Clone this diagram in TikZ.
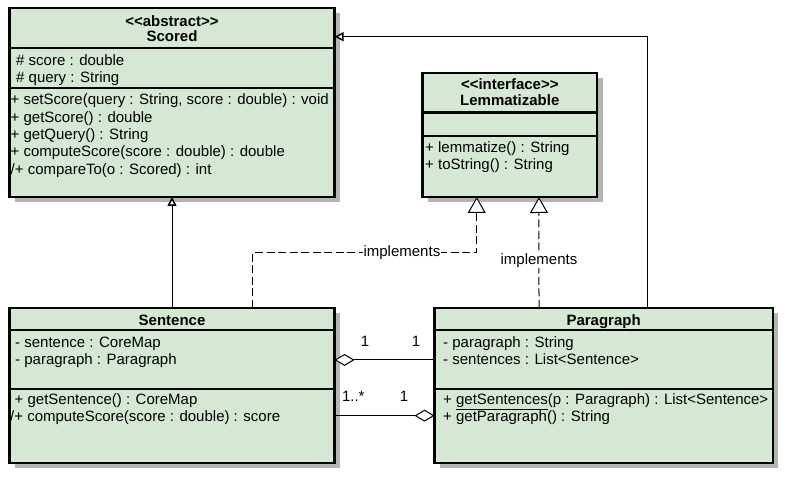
\documentclass[tikz,border=0pt]{standalone}
\usepackage{fontspec}
\setmainfont{Liberation Sans}
\usetikzlibrary{arrows.meta,shadows}
\definecolor{umlgreen}{HTML}{D5E8D4}
\definecolor{shadowgray}{HTML}{B5B5B5}
\begin{document}
\begin{tikzpicture}[x=1pt,y=-1pt,
  umlclass/.style={draw,line width=2.2pt,fill=umlgreen,outer sep=0pt,inner sep=0pt,anchor=north west,
    drop shadow={shadow xshift=5.5pt,shadow yshift=-5.5pt,fill=shadowgray,opacity=1}},
  sepline/.style={line width=2.2pt},
  member/.style={anchor=base west,inner sep=0pt,font=\fontsize{15}{17}\selectfont},
  title/.style={anchor=base,inner sep=0pt,font=\fontsize{15}{17}\selectfont\bfseries},
  mult/.style={fill=white,inner sep=0.6pt,font=\fontsize{15}{17}\selectfont},
  generalize/.style={line width=1pt,-{Triangle[open,fill=white,length=9pt,width=9pt,line width=1.5pt]}},
  realize/.style={line width=1pt,dash pattern=on 8pt off 3.5pt,-{Triangle[open,fill=white,length=16pt,width=18pt,line width=1pt,sep=0pt]}},
  aggregate/.style={line width=1pt,-{Diamond[open,fill=white,length=20pt,width=12pt]}}]
\useasboundingbox (0,0) rectangle (787,478);

% classes
\node[umlclass,minimum width=325pt,minimum height=189.2pt] (scored) at (9.5,7.8) {};
\node[umlclass,minimum width=174.5pt,minimum height=124.3pt] (lemma) at (422.5,72.7) {};
\node[umlclass,minimum width=325pt,minimum height=154.9pt] (sentence) at (9.5,307.8) {};
\node[umlclass,minimum width=338.2pt,minimum height=154.9pt] (paragraph) at (434.5,307.8) {};

% compartments
\draw[sepline] (scored.west |- 0,47.9) -- (scored.east |- 0,47.9);
\draw[sepline] (scored.west |- 0,88.3) -- (scored.east |- 0,88.3);
\draw[sepline] (lemma.west |- 0,112.5) -- (lemma.east |- 0,112.5);
\draw[sepline] (lemma.west |- 0,135.8) -- (lemma.east |- 0,135.8);
\draw[sepline] (sentence.west |- 0,330.3) -- (sentence.east |- 0,330.3);
\draw[sepline] (sentence.west |- 0,388.7) -- (sentence.east |- 0,388.7);
\draw[sepline] (paragraph.west |- 0,330.3) -- (paragraph.east |- 0,330.3);
\draw[sepline] (paragraph.west |- 0,388.7) -- (paragraph.east |- 0,388.7);

% titles
\node[title] (scored-st) at (172,26.5) {<{}<abstract>{}>};
\node[title] (scored-nm) at (172,41.7) {Scored};
\node[title] (lemma-st) at (509.8,89.5) {<{}<interface>{}>};
\node[title] (lemma-nm) at (509.8,106) {Lemmatizable};
\node[title] (sentence-nm) at (172,325) {Sentence};
\node[title] (paragraph-nm) at (603.6,325) {Paragraph};

% members
\foreach \txt [count=\i from 0] in {\# score : double,\# query : String}
  \node[member] (scored-a\i) at (16,65.7+17*\i) {\txt};
\foreach \txt [count=\i from 0] in {{+ setScore(query : String, score : double) : void},
    + getScore() : double,+ getQuery() : String,
    + computeScore(score : double) : double,/+ compareTo(o : Scored) : int}
  \node[member] (scored-m\i) at (10.5,105+17.3*\i) {\txt};
\foreach \txt [count=\i from 0] in {+ lemmatize() : String,+ toString() : String}
  \node[member] (lemma-m\i) at (425,152.7+17.3*\i) {\txt};
\foreach \txt [count=\i from 0] in {- sentence : CoreMap,- paragraph : Paragraph}
  \node[member] (sentence-a\i) at (15,347+17*\i) {\txt};
\node[member] (sentence-m0) at (14.5,404.5) {+ getSentence() : CoreMap};
\node[member] (sentence-m1) at (10,421.8) {/+ computeScore(score : double) : score};
\foreach \txt [count=\i from 0] in {- paragraph : String,- sentences : List<Sentence>}
  \node[member] (paragraph-a\i) at (443,347+17*\i) {\txt};
\node[member] (paragraph-m0) at (443,404.5) {+ \underline{getSentences}(p : Paragraph) : List<Sentence>};
\node[member] (paragraph-m1) at (443,421.8) {+ getParagraph() : String};

% inheritance
\draw[generalize] (sentence) -- (scored);
\draw[generalize] ([xshift=44pt]paragraph.north) |- ([yshift=65.7pt]scored.east);

% realization
\draw[realize] ([xshift=80.7pt]sentence.north) -- ++(0,-55.1) -| ([xshift=-33pt]lemma.south)
  node[pos=0.333,mult] (impl1) {implements};
\draw[realize] ([xshift=-64.6pt]paragraph.north) -- ([xshift=29.2pt]lemma.south)
  node[pos=0.425,mult] (impl2) {implements};

% aggregation
\draw[aggregate] ([yshift=25.3pt]paragraph.west) -- ([yshift=25.3pt]sentence.east);
\draw[aggregate] ([yshift=-30.4pt]sentence.east) -- ([yshift=-30.4pt]paragraph.west);
\node[mult] (m1a) at (365,341.7) {1};
\node[mult] (m1b) at (416,341.7) {1};
\node[mult] (m2a) at (353.3,396.7) {1..*};
\node[mult] (m2b) at (404,396.7) {1};
\end{tikzpicture}
\end{document}
